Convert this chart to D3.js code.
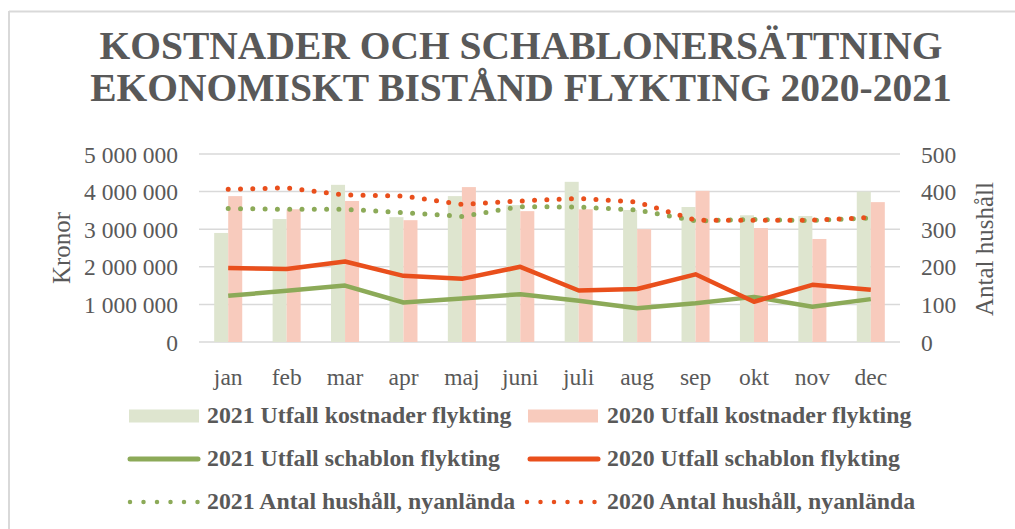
<!DOCTYPE html>
<html><head><meta charset="utf-8">
<script src="https://cdn.jsdelivr.net/npm/d3@7/dist/d3.min.js"></script>
<style>
html,body{margin:0;padding:0;background:#fff;}
svg{display:block;font-family:"Liberation Serif","Times New Roman",serif;}
</style></head><body>
<svg id="c" width="1015" height="529"></svg>
<script>
const months = ["jan","feb","mar","apr","maj","juni","juli","aug","sep","okt","nov","dec"];
const cost2021 = [2900000,3270000,4180000,3320000,3880000,3640000,4260000,3510000,3590000,3370000,3350000,4000000];
const cost2020 = [3880000,3530000,3750000,3240000,4120000,3480000,3530000,3000000,4020000,3030000,2740000,3720000];
const schablon2021 = [1230000,1360000,1500000,1050000,1160000,1270000,1100000,900000,1030000,1200000,940000,1140000];
const schablon2020 = [1970000,1940000,2140000,1760000,1680000,2000000,1370000,1410000,1800000,1070000,1520000,1390000];
const hushall2021 = [355,353,353,344,334,360,359,351,322,326,323,330];
const hushall2020 = [406,410,391,388,366,375,382,372,324,324,324,331];
const leftTicks = [0,1000000,2000000,3000000,4000000,5000000];
const rightTicks = [0,100,200,300,400,500];
const titleLines = ["KOSTNADER OCH SCHABLONERSÄTTNING","EKONOMISKT BISTÅND FLYKTING 2020-2021"];

const C = {
  bar21:"#dee5cf", bar20:"#f8cbbd", line21:"#8caa58", line20:"#e94f1c",
  text:"#595959", grid:"#d9d9d9"
};

const svg = d3.select("#c");
// outer border (top/left only visible)
svg.append("line").attr("x1",9).attr("x2",1015).attr("y1",11.5).attr("y2",11.5).attr("stroke","#d9d9d9").attr("stroke-width",2);
svg.append("line").attr("x1",9).attr("x2",9).attr("y1",11).attr("y2",529).attr("stroke","#d9d9d9").attr("stroke-width",2);

// title
svg.append("g").selectAll("text").data(titleLines).join("text")
  .attr("x",521).attr("y",(d,i)=>58.5+i*42.5)
  .attr("text-anchor","middle").attr("font-weight","bold").attr("font-size",39.5)
  .attr("fill",C.text).text(d=>d);

const x = d3.scaleBand().domain(months).range([199,900]);
const yL = d3.scaleLinear().domain([0,5000000]).range([342,154]);
const yR = d3.scaleLinear().domain([0,500]).range([342,154]);

// grid
svg.append("g").selectAll("line").data(leftTicks).join("line")
  .attr("x1",199).attr("x2",900).attr("y1",d=>yL(d)).attr("y2",d=>yL(d))
  .attr("stroke",C.grid).attr("stroke-width",1.5);

// left axis
const fmt = v => d3.format(",")(v).replace(/,/g," ");
const axL = d3.axisLeft(yL).tickValues(leftTicks).tickFormat(fmt).tickSize(0).tickPadding(0);
const gL = svg.append("g").attr("transform","translate(178,0)").call(axL);
gL.select(".domain").remove();
gL.selectAll("text").attr("font-size",23.5).attr("fill",C.text).attr("font-family","Liberation Serif").attr("dy","0.34em");

const axR = d3.axisRight(yR).tickValues(rightTicks).tickSize(0).tickPadding(0);
const gR = svg.append("g").attr("transform","translate(921,0)").call(axR);
gR.select(".domain").remove();
gR.selectAll("text").attr("font-size",23.5).attr("fill",C.text).attr("font-family","Liberation Serif").attr("dy","0.34em");

const axB = d3.axisBottom(x).tickSize(0).tickPadding(0);
const gB = svg.append("g").attr("transform","translate(0,368)").call(axB);
gB.select(".domain").remove();
gB.selectAll("text").attr("font-size",23.5).attr("fill",C.text).attr("font-family","Liberation Serif").attr("dy","0.71em");

// axis titles
svg.append("text").attr("transform","translate(70,248) rotate(-90)").attr("text-anchor","middle")
  .attr("font-size",25).attr("fill",C.text).text("Kronor");
svg.append("text").attr("transform","translate(993,249) rotate(-90)").attr("text-anchor","middle")
  .attr("font-size",25).attr("fill",C.text).text("Antal hushåll");

// bars
const bw = x.bandwidth()*0.24;
const cx = m => x(m)+x.bandwidth()/2;
svg.append("g").selectAll("rect").data(months).join("rect")
  .attr("x",m=>cx(m)-bw).attr("width",bw)
  .attr("y",(m,i)=>yL(cost2021[i])).attr("height",(m,i)=>yL(0)-yL(cost2021[i]))
  .attr("fill",C.bar21);
svg.append("g").selectAll("rect").data(months).join("rect")
  .attr("x",m=>cx(m)).attr("width",bw)
  .attr("y",(m,i)=>yL(cost2020[i])).attr("height",(m,i)=>yL(0)-yL(cost2020[i]))
  .attr("fill",C.bar20);

// lines
const lineL = d3.line().x((d,i)=>cx(months[i])).y(d=>yL(d));
const lineR = d3.line().x((d,i)=>cx(months[i])).y(d=>yR(d));
svg.append("path").attr("d",lineL(schablon2021)).attr("fill","none").attr("stroke",C.line21).attr("stroke-width",4.5).attr("stroke-linejoin","round");
svg.append("path").attr("d",lineL(schablon2020)).attr("fill","none").attr("stroke",C.line20).attr("stroke-width",4.5).attr("stroke-linejoin","round");
svg.append("path").attr("d",lineR(hushall2021)).attr("fill","none").attr("stroke",C.line21).attr("stroke-width",5)
  .attr("stroke-linecap","round").attr("stroke-dasharray","0 12.3");
svg.append("path").attr("d",lineR(hushall2020)).attr("fill","none").attr("stroke",C.line20).attr("stroke-width",5)
  .attr("stroke-linecap","round").attr("stroke-dasharray","0 12.3");

// legend
const legend = [
  {t:"2021 Utfall kostnader flykting", type:"rect", c:C.bar21, x:129, y:416},
  {t:"2020 Utfall kostnader flykting", type:"rect", c:C.bar20, x:528, y:416},
  {t:"2021 Utfall schablon flykting", type:"line", c:C.line21, x:128, y:459},
  {t:"2020 Utfall schablon flykting", type:"line", c:C.line20, x:528, y:459},
  {t:"2021 Antal hushåll, nyanlända", type:"dot", c:C.line21, x:128, y:502},
  {t:"2020 Antal hushåll, nyanlända", type:"dot", c:C.line20, x:525, y:502}
];
const lg = svg.append("g").selectAll("g").data(legend).join("g");
lg.each(function(d){
  const g = d3.select(this);
  if(d.type==="rect") g.append("rect").attr("x",d.x).attr("y",d.y-6.5).attr("width",70).attr("height",13).attr("fill",d.c);
  else if(d.type==="line") g.append("line").attr("x1",d.x+2).attr("x2",d.x+70).attr("y1",d.y).attr("y2",d.y).attr("stroke",d.c).attr("stroke-width",5).attr("stroke-linecap","round");
  else g.append("line").attr("x1",d.x+2).attr("x2",d.x+70).attr("y1",d.y).attr("y2",d.y).attr("stroke",d.c).attr("stroke-width",4.5).attr("stroke-linecap","round").attr("stroke-dasharray","0 13.5");
  g.append("text").attr("x",207 + (d.x>300?400:0)).attr("y",d.y).attr("dy","0.3em")
    .attr("font-size",23.8).attr("font-weight","bold").attr("fill",C.text).text(d.t);
});
</script>
</body></html>
